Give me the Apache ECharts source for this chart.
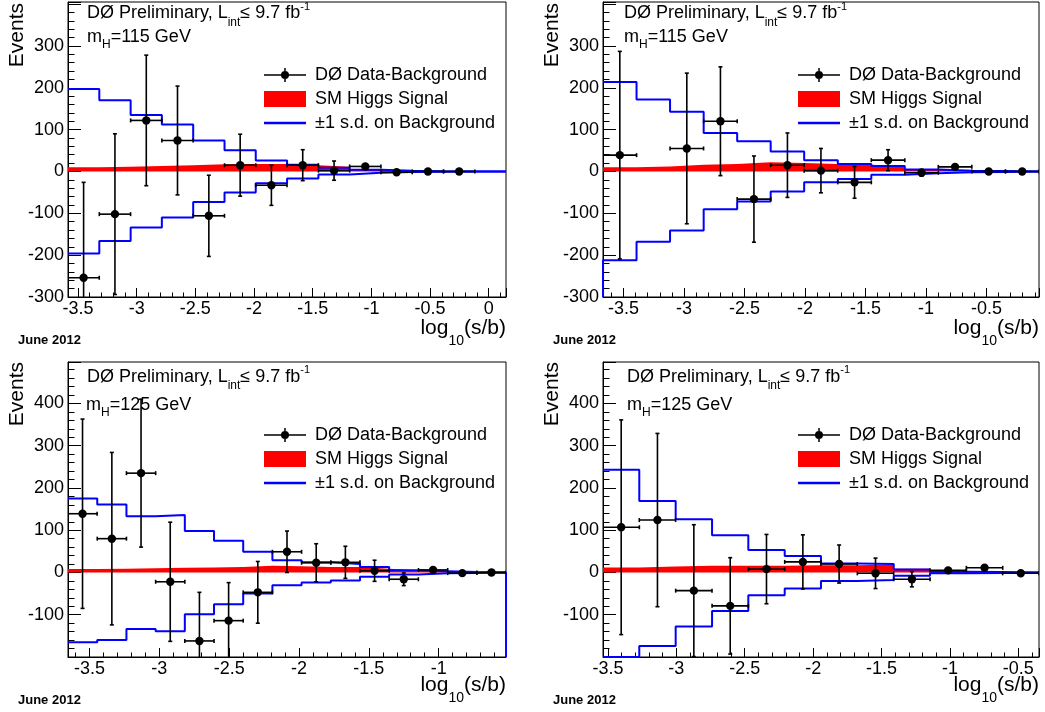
<!DOCTYPE html>
<html>
<head>
<meta charset="utf-8">
<script src="https://cdn.jsdelivr.net/npm/echarts@6/dist/echarts.min.js"></script>
<style>html,body{margin:0;padding:0;background:#fff}#c{width:1045px;height:712px}</style>
</head>
<body>
<div id="c"></div>
<script>
// ---------------- data ----------------
const legendNames = ['DØ Data-Background', 'SM Higgs Signal', '±1 s.d. on Background'];
const panelTitles = ['m_H=115 GeV', 'm_H=115 GeV', 'm_H=125 GeV', 'm_H=125 GeV'];

// Panel 1 : mH = 115 GeV (left)
const p1Centers = [-3.452, -3.185, -2.918, -2.652, -2.385, -2.118, -1.852, -1.585, -1.318, -1.052, -0.785, -0.518, -0.252, 0.014];
const p1Values  = [-254, -102, 122, 74, -106, 15, -33, 15, 2, 12, -2, 0, 0, null];
const p1Errors  = [228, 192, 156, 130, 97, 74, 48, 37, 23, 6, 4, 3, 2, null];
const p1Upper   = [197, 170, 135, 112, 74, 51, 26, 16, 9, 4, 1.5, 0.5, 0, 0];
const p1Lower   = [-196, -166, -134, -110, -73, -50, -28, -17, -7, -3, -1, -0.5, 0, 0];
const p1Signal  = [10, 11, 13, 15, 17, 18, 18, 15, 11, 5, 2, 1, 0.5, 0.2];
const p1BinWidth = 0.2666;
const p1XRange = [-3.585, 0.147];
const p1YRange = [-300, 405];

// Panel 2 : mH = 115 GeV (right)
const p2Centers = [-3.531, -3.254, -2.977, -2.699, -2.422, -2.145, -1.868, -1.590, -1.313, -1.036, -0.759, -0.481, -0.204];
const p2Values  = [39, null, 55, 120, -66, 15, 2, -26, 27, -3, 11, 0, 0];
const p2Errors  = [248, null, 180, 130, 103, 77, 53, 38, 25, 8, 4, 3, 2];
const p2Upper   = [214, 172, 143, 92, 72, 48, 27, 18, 13, 5, 2, 1, 0];
const p2Lower   = [-212, -168, -141, -90, -72, -48, -26, -18, -8, -4, -2, -1, 0];
const p2Signal  = [10, 12, 16, 18, 22, 20, 18, 16, 12, 6, 2, 1, 0.5];
const p2BinWidth = 0.2773;
const p2XRange = [-3.67, -0.065];
const p2YRange = [-300, 405];

// Panel 3 : mH = 125 GeV (left)
const p3Centers = [-3.550, -3.340, -3.131, -2.922, -2.713, -2.504, -2.295, -2.086, -1.877, -1.668, -1.459, -1.250, -1.040, -0.831, -0.622];
const p3Values  = [139, 80, 235, -22, -162, -114, -47, 49, 23, 24, 4, -16, 6, -1.5, 0];
const p3Errors  = [224, 204, 175, 141, 115, 90, 73, 49, 45, 38, 25, 15, 4, 3, 2];
const p3Upper   = [175, 161, 133, 136, 98, 75, 49, 29, 24, 20, 13, 5, 3, 1, 0];
const p3Lower   = [-165, -160, -134, -139, -99, -75, -50, -30, -24, -19, -10, -5, -2, -1, 0];
const p3Signal  = [8, 9, 10, 11, 12, 13, 16, 15, 13, 13, 9, 5, 2, 1, 0.5];
const p3BinWidth = 0.2091;
const p3XRange = [-3.654, -0.518];
const p3YRange = [-200, 498];

// Panel 4 : mH = 125 GeV (right)
const p4Centers = [-3.403, -3.138, -2.872, -2.606, -2.341, -2.075, -1.810, -1.544, -1.278, -1.013, -0.747, -0.482];
const p4Values  = [107, 124, -43, -79, 8, 25, 20, -2, -16, 5, 11, -2];
const p4Errors  = [254, 205, 156, 114, 82, 64, 45, 36, 18, 4, 4, 2];
const p4Upper   = [243, 169, 126, 88, 53, 39, 21, 20, 7, 2, 1, 0];
const p4Lower   = [-200, -174, -128, -91, -54, -38, -20, -18, -8, -2, -1, 0];
const p4Signal  = [12, 14, 16, 16, 16, 17, 17, 19, 9, 3, 1, 0.5];
const p4BinWidth = 0.2656;
const p4XRange = [-3.536, -0.349];
const p4YRange = [-200, 498];

const yTickStep = 100;

// ---------------- layout / style ----------------
const FONT = '"Liberation Sans", Arial, Helvetica, sans-serif';
const BLUE = '#0000ff', RED = '#ff0000', BLACK = '#000000';

const panels = [
  {c: p1Centers, v: p1Values, e: p1Errors, up: p1Upper, lo: p1Lower, sig: p1Signal, w: p1BinWidth, xr: p1XRange, yr: p1YRange, closeLeft: false, closeRight: false,
   grid: {left: 68, top: 2, width: 438, height: 295}, legend: {left: 264, top: 66}, t1: [87, 13.5], t2: [87, 37], ev: [17, 3], xt: [506, 328], jn: [18, 340], yLabelMax: 300, showYMin: true},
  {c: p2Centers, v: p2Values, e: p2Errors, up: p2Upper, lo: p2Lower, sig: p2Signal, w: p2BinWidth, xr: p2XRange, yr: p2YRange, closeLeft: true, closeRight: false,
   grid: {left: 603, top: 2, width: 436, height: 295}, legend: {left: 798, top: 66}, t1: [624, 13.5], t2: [624, 37], ev: [552, 3], xt: [1039, 328], jn: [553, 340], yLabelMax: 300, showYMin: true},
  {c: p3Centers, v: p3Values, e: p3Errors, up: p3Upper, lo: p3Lower, sig: p3Signal, w: p3BinWidth, xr: p3XRange, yr: p3YRange, closeLeft: false, closeRight: true,
   grid: {left: 68, top: 362, width: 438, height: 295}, legend: {left: 264, top: 426}, t1: [87, 377], t2: [86, 405], ev: [17, 362], xt: [506, 685], jn: [18, 700], yLabelMax: 400, showYMin: false},
  {c: p4Centers, v: p4Values, e: p4Errors, up: p4Upper, lo: p4Lower, sig: p4Signal, w: p4BinWidth, xr: p4XRange, yr: p4YRange, closeLeft: false, closeRight: false,
   grid: {left: 603, top: 362, width: 436, height: 295}, legend: {left: 798, top: 426}, t1: [627, 377], t2: [627, 405], ev: [552, 362], xt: [1039, 685], jn: [553, 700], yLabelMax: 400, showYMin: false}
];

// histogram outline points (left edge of every bin + right edge of last bin) for step:'end'
function stepData(P, vals) {
  const pts = [];
  const half = P.w / 2;
  for (let i = 0; i < P.c.length; i++) pts.push([P.c[i] - half, vals[i]]);
  pts.push([P.c[P.c.length - 1] + half, vals[vals.length - 1]]);
  return pts;
}

const dataIcon = 'path://M0,0 M42,16 M0,7.25 L42,7.25 L42,8.75 L0,8.75 Z M20.25,1 L21.75,1 L21.75,15 L20.25,15 Z M17,8 A4,4 0 1,1 25,8 A4,4 0 1,1 17,8 Z';
const lineIcon = 'path://M0,0 M42,16 M0,6.75 L42,6.75 L42,9.25 L0,9.25 Z';

function renderPoint(params, api) {
  const x = api.value(0), y = api.value(1), ex = api.value(2), ey = api.value(3);
  const c = api.coord([x, y]);
  const l = api.coord([x - ex, y]), r = api.coord([x + ex, y]);
  const t = api.coord([x, y + ey]), b = api.coord([x, y - ey]);
  const st = {stroke: BLACK, lineWidth: 1.6};
  const cap = 2;
  return {
    type: 'group',
    children: [
      {type: 'line', shape: {x1: l[0], y1: c[1], x2: r[0], y2: c[1]}, style: st},
      {type: 'line', shape: {x1: c[0], y1: t[1], x2: c[0], y2: b[1]}, style: st},
      {type: 'line', shape: {x1: l[0], y1: c[1] - cap, x2: l[0], y2: c[1] + cap}, style: st},
      {type: 'line', shape: {x1: r[0], y1: c[1] - cap, x2: r[0], y2: c[1] + cap}, style: st},
      {type: 'line', shape: {x1: c[0] - cap, y1: t[1], x2: c[0] + cap, y2: t[1]}, style: st},
      {type: 'line', shape: {x1: c[0] - cap, y1: b[1], x2: c[0] + cap, y2: b[1]}, style: st},
      {type: 'circle', shape: {cx: c[0], cy: c[1], r: 4.2}, style: {fill: BLACK}}
    ]
  };
}

const grid = [], xAxis = [], yAxis = [], series = [], legend = [], graphic = [];

panels.forEach((P, i) => {
  grid.push(Object.assign({show: true, borderColor: BLACK, borderWidth: 1, backgroundColor: '#fff', containLabel: false, outerBoundsMode: 'none'}, P.grid));
  xAxis.push({
    type: 'value', gridIndex: i, min: P.xr[0], max: P.xr[1], splitNumber: 7,
    axisLine: {show: true, onZero: false, lineStyle: {color: BLACK, width: 1}},
    axisTick: {show: true, inside: true, length: 9, lineStyle: {color: BLACK, width: 1}},
    minorTick: {show: true, splitNumber: 5, length: 4.5, lineStyle: {color: BLACK, width: 1}},
    splitLine: {show: false}, minorSplitLine: {show: false},
    axisLabel: {color: BLACK, fontSize: 18, fontFamily: FONT, margin: 3, showMinLabel: false, showMaxLabel: false}
  });
  yAxis.push({
    type: 'value', gridIndex: i, min: P.yr[0], max: P.yr[1], interval: yTickStep,
    axisLine: {show: true, onZero: false, lineStyle: {color: BLACK, width: 1}},
    axisTick: {show: true, inside: true, length: 13, lineStyle: {color: BLACK, width: 1}},
    minorTick: {show: true, splitNumber: 5, length: 6.5, lineStyle: {color: BLACK, width: 1}},
    splitLine: {show: false}, minorSplitLine: {show: false},
    axisLabel: {color: BLACK, fontSize: 18, fontFamily: FONT, margin: 4, showMinLabel: P.showYMin, showMaxLabel: false,
      formatter: v => (v > P.yLabelMax ? '' : String(v))}
  });

  // SM Higgs signal (filled histogram)
  series.push({
    type: 'line', name: legendNames[1], xAxisIndex: i, yAxisIndex: i, step: 'end', symbol: 'none',
    data: stepData(P, P.sig), lineStyle: {width: 0, color: RED}, itemStyle: {color: RED},
    areaStyle: {color: RED, opacity: 1}, z: 1, silent: true
  });
  // +-1 s.d. band
  const up = stepData(P, P.up);
  const lo = stepData(P, P.lo);
  if (P.closeLeft) lo.unshift([lo[0][0], P.yr[0]]);
  if (P.closeRight) lo.push([lo[lo.length - 1][0], P.yr[0]]);
  [up, lo].forEach(d => series.push({
    type: 'line', name: legendNames[2], xAxisIndex: i, yAxisIndex: i, step: 'end', symbol: 'none', showSymbol: false,
    data: d, lineStyle: {width: 2, color: BLUE}, itemStyle: {color: BLUE}, z: 2, silent: true
  }));
  // Data - background with error bars
  const pts = [];
  P.c.forEach((x, k) => { if (P.v[k] !== null) pts.push([x, P.v[k], P.w / 2, P.e[k]]); });
  series.push({
    type: 'custom', name: legendNames[0], xAxisIndex: i, yAxisIndex: i, data: pts,
    encode: {x: 0, y: 1}, renderItem: renderPoint, itemStyle: {color: BLACK}, clip: true, z: 3, silent: true
  });

  legend.push({
    orient: 'vertical', left: P.legend.left, top: P.legend.top, padding: 0,
    itemWidth: 42, itemHeight: 16, itemGap: 6, selectedMode: false,
    textStyle: {color: BLACK, fontSize: 18, fontFamily: FONT, lineHeight: 16, padding: [0, 0, 0, 4]},
    data: [
      {name: legendNames[0], icon: dataIcon, itemStyle: {color: BLACK, borderWidth: 0}},
      {name: legendNames[1], icon: 'rect', itemStyle: {color: RED, borderWidth: 0}},
      {name: legendNames[2], icon: lineIcon, itemStyle: {color: BLUE, borderWidth: 0}}
    ]
  });

  const txt = (x, y, style, extra) => Object.assign({type: 'text', x: x, y: y, silent: true, style: Object.assign({fill: BLACK, fontFamily: FONT}, style)}, extra || {});

  graphic.push(txt(P.t1[0], P.t1[1], {
    text: '{n|DØ Preliminary, L}{s|int}{n|≤ 9.7 fb}{p|-1}', align: 'left', verticalAlign: 'middle',
    rich: {n: {fontSize: 18, fontFamily: FONT, fill: BLACK, lineHeight: 30},
           s: {fontSize: 12, fontFamily: FONT, fill: BLACK, lineHeight: 12, padding: [18, 0, 0, 0]},
           p: {fontSize: 11, fontFamily: FONT, fill: BLACK, lineHeight: 11, padding: [0, 0, 14, 0]}}
  }));
  const mt = panelTitles[i].split('=');
  graphic.push(txt(P.t2[0], P.t2[1], {
    text: '{n|m}{s|H}{n|=' + mt[1] + '}', align: 'left', verticalAlign: 'middle',
    rich: {n: {fontSize: 18, fontFamily: FONT, fill: BLACK, lineHeight: 30},
           s: {fontSize: 12, fontFamily: FONT, fill: BLACK, lineHeight: 12, padding: [16, 0, 0, 0]}}
  }));
  graphic.push(txt(P.ev[0], P.ev[1], {text: 'Events', fontSize: 21, align: 'right', verticalAlign: 'middle'}, {rotation: Math.PI / 2}));
  graphic.push(txt(P.xt[0], P.xt[1], {
    text: '{n|log}{s|10}{n|(s/b)}', align: 'right', verticalAlign: 'middle',
    rich: {n: {fontSize: 21, fontFamily: FONT, fill: BLACK, lineHeight: 30},
           s: {fontSize: 14, fontFamily: FONT, fill: BLACK, lineHeight: 14, padding: [26, 0, 0, 0]}}
  }));
  graphic.push(txt(P.jn[0], P.jn[1], {text: 'June 2012', fontSize: 13, fontWeight: 'bold', align: 'left', verticalAlign: 'middle'}));
});

const chart = echarts.init(document.getElementById('c'), null, {renderer: 'canvas'});
chart.setOption({
  backgroundColor: '#ffffff',
  animation: false,
  grid, xAxis, yAxis, series, legend,
  graphic: {elements: graphic}
});
</script>
</body>
</html>
